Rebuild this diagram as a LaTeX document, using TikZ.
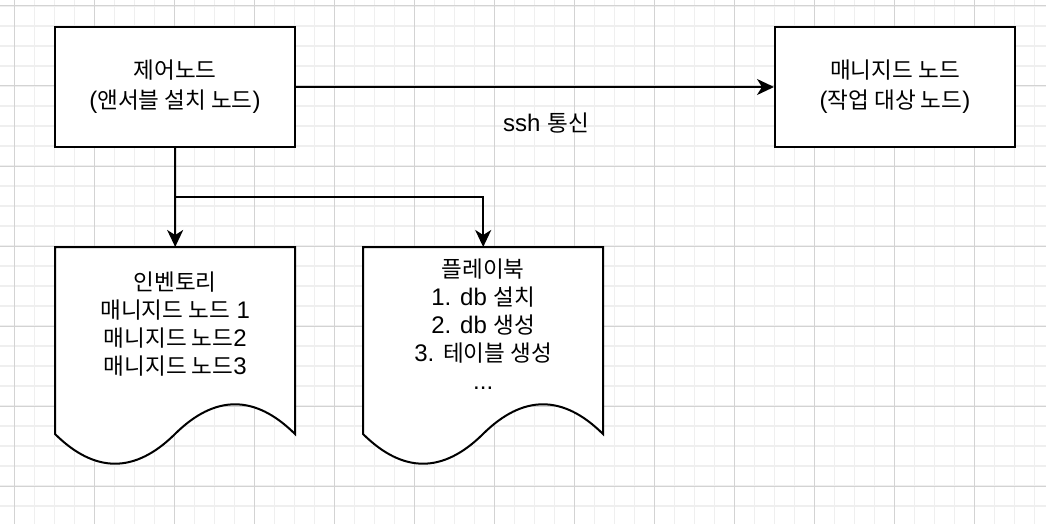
\documentclass[tikz,border=0pt]{standalone}
\usepackage{fontspec}
\setmainfont{Liberation Sans}
\newfontfamily\kr{Noto Sans CJK KR}[Scale=0.94]
\usetikzlibrary{arrows.meta}
\definecolor{gridminor}{HTML}{EFEFEF}
\definecolor{gridmajor}{HTML}{D3D3D3}
\tikzset{
  boxnode/.style={draw=black, line width=2pt, fill=white, minimum width=240pt, minimum height=120pt, inner sep=0pt, align=center, font=\fontsize{24}{30}\selectfont},
  docnode/.style={draw=none, minimum width=240pt, minimum height=154pt, inner sep=0pt, align=center, font=\fontsize{24}{28}\selectfont, anchor=north west},
  docline/.style={draw=black, line width=2pt, fill=white, line join=miter},
  arr/.style={draw=black, line width=2pt, -{Stealth[length=17pt,width=16pt,inset=5pt]}},
  lbl/.style={inner sep=0pt, font=\fontsize{24}{28}\selectfont},
  minorline/.style={gridminor, line width=1.6pt},
  majorline/.style={gridmajor, line width=1pt},
}
\begin{document}
\begin{tikzpicture}[x=1pt,y=-1pt]
\useasboundingbox (0,0) rectangle (1046,524);
\fill[white] (0,0) rectangle (1046,524);
% grid
\foreach \x in {14.5,34.5,...,1054.5} \draw[minorline] (\x,0) -- (\x,524);
\foreach \y in {6,26,...,526} \draw[minorline] (0,\y) -- (1046,\y);
\foreach \x in {14.5,94.5,...,1054.5} \draw[majorline] (\x,0) -- (\x,524);
\foreach \y in {6,86,...,526} \draw[majorline] (0,\y) -- (1046,\y);

% document outlines
\draw[docline, shift={(55,247)}] (0,0) -- (240,0) -- (240,187)
  .. controls (200,147.4) and (160,147.4) .. (120,187)
  .. controls (80,226.6) and (40,226.6) .. (0,187) -- cycle;
\draw[docline, shift={(363,247)}] (0,0) -- (240,0) -- (240,187)
  .. controls (200,147.4) and (160,147.4) .. (120,187)
  .. controls (80,226.6) and (40,226.6) .. (0,187) -- cycle;

% document texts
\node[docnode] (inv) at (55,247) {{\kr 인벤토리}\\{\kr 매니지드 노드} 1\\{\kr 매니지드 노드}2\\{\kr 매니지드 노드}3};
\node[docnode] (pb) at (363,247) {{\kr 플레이북}\\1. db {\kr 설치}\\2. db {\kr 생성}\\3. {\kr 테이블 생성}\\...};

% boxes
\node[boxnode] (ctrl) at (175,87) {{\kr 제어노드}\\({\kr 앤서블 설치 노드})};
\node[boxnode] (mn) at (895,87) {{\kr 매니지드 노드}\\({\kr 작업 대상 노드})};

% connectors
\coordinate (split) at (175,197);
\draw[arr] (ctrl.east) -- (mn.west) node[lbl, pos=0.523, yshift=-36pt] (ssh) {ssh {\kr 통신}};
\draw[arr] (ctrl.south) -- (inv.north);
\draw[arr] (ctrl.south) -- (split) -| (pb.north);
\end{tikzpicture}
\end{document}
